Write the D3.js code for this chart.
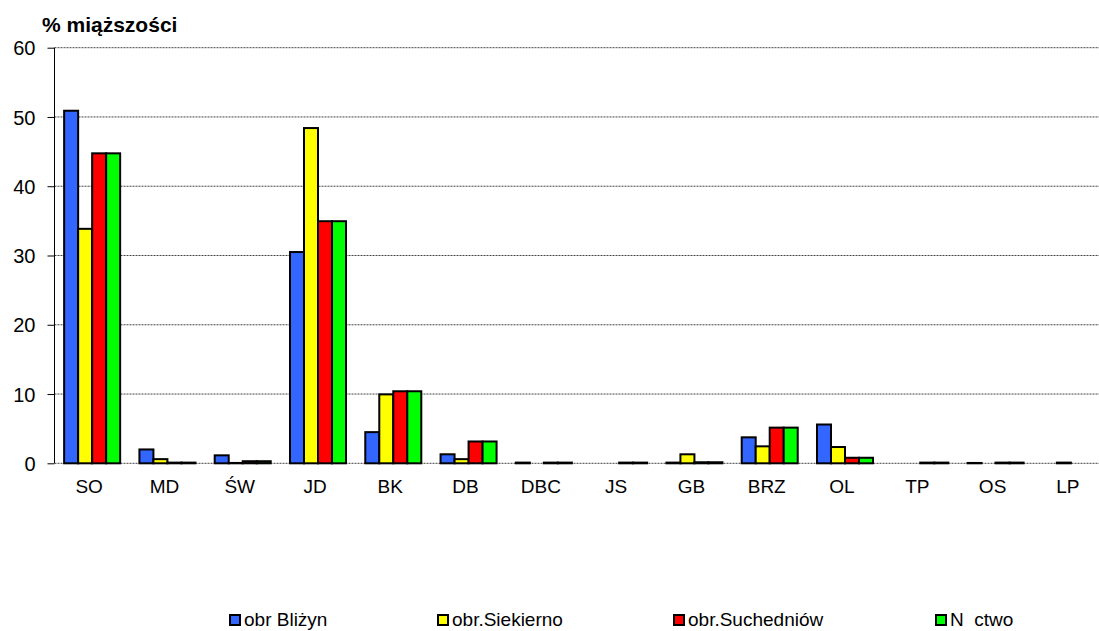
<!DOCTYPE html>
<html>
<head>
<meta charset="utf-8">
<script src="https://cdn.jsdelivr.net/npm/d3@7"></script>
<style>
  html, body { margin: 0; padding: 0; background: #fff; }
  svg { display: block; font-family: "Liberation Sans", Arial, sans-serif; }
</style>
</head>
<body>
<svg id="chart" width="1099" height="631"></svg>
<script>
const categories = ["SO", "MD", "ŚW", "JD", "BK", "DB", "DBC", "JS", "GB", "BRZ", "OL", "TP", "OS", "LP"];
const seriesNames = ["obr Bliżyn", "obr.Siekierno", "obr.Suchedniów", "N  ctwo"];
const seriesColors = ["#3366ff", "#ffff00", "#ff0000", "#00ff00"];
const blizyn     = [50.9, 2.0, 1.15, 30.5, 4.5, 1.3, 0.1, 0,   0.1, 3.75, 5.6, 0,   0.05, 0];
const siekierno  = [33.85, 0.6, 0.05, 48.4, 9.95, 0.6, 0,  0,   1.3, 2.45, 2.35, 0, 0,    0.1];
const suchedniow = [44.75, 0.1, 0.3, 34.95, 10.4, 3.15, 0.1, 0.1, 0.15, 5.15, 0.8, 0.1, 0.1, 0];
const nadlesn    = [44.75, 0.1, 0.3, 34.95, 10.4, 3.15, 0.1, 0.1, 0.15, 5.15, 0.8, 0.1, 0.1, 0];
const yTicks = [0, 10, 20, 30, 40, 50, 60];
const series = [blizyn, siekierno, suchedniow, nadlesn];

(function () {
const svg = d3.select("#chart");
const pLeft = 54.5, pRight = 1108.5, pTop = 47.7, pBottom = 463.3;
const FONT = "'Liberation Sans', Arial, sans-serif";

const x = d3.scaleBand().domain(categories).range([pLeft, pRight]).paddingInner(0.256).paddingOuter(0.128);
const xs = d3.scaleBand().domain(d3.range(series.length)).range([0, x.bandwidth()]);
const y = d3.scaleLinear().domain([0, 60]).range([pBottom, pTop]);

// gridlines
svg.append("g").selectAll("line").data(yTicks).join("line")
  .attr("x1", pLeft).attr("x2", 1099)
  .attr("y1", d => y(d)).attr("y2", d => y(d))
  .attr("stroke", "#444").attr("stroke-width", 1).attr("stroke-dasharray", "2,1");

// y axis
const yAxis = d3.axisLeft(y).tickValues(yTicks).tickSize(7).tickPadding(12).tickFormat(d3.format("d"));
const ya = svg.append("g").attr("transform", `translate(${pLeft},0)`).call(yAxis);
ya.select(".domain").attr("stroke", "#000").attr("d", `M0,${pBottom}V${pTop}`);
ya.selectAll(".tick line").attr("stroke", "#000");
ya.selectAll(".tick text").attr("font-size", 20).attr("fill", "#000")
  .attr("font-family", FONT).attr("dy", "0.36em");

// bars
const groups = svg.append("g").selectAll("g").data(categories).join("g")
  .attr("transform", d => `translate(${x(d)},0)`);
groups.selectAll("rect").data((c, i) => series.map((s, k) => ({k, v: s[i]})))
  .join("rect")
  .attr("x", d => xs(d.k))
  .attr("width", xs.bandwidth())
  .attr("y", d => y(d.v))
  .attr("height", d => Math.max(0, y(0) - y(d.v)))
  .attr("fill", d => seriesColors[d.k])
  .attr("stroke", "#000").attr("stroke-width", 2);

// x axis labels
const xAxis = d3.axisBottom(x).tickSize(0).tickPadding(0);
const xa = svg.append("g").attr("transform", `translate(-3,${pBottom})`).call(xAxis);
xa.select(".domain").remove();
xa.selectAll(".tick text").attr("font-size", 19).attr("fill", "#000")
  .attr("font-family", FONT).attr("y", 30).attr("dy", 0);

// title
svg.append("text").attr("x", 42).attr("y", 32).attr("font-size", 21).attr("font-weight", "bold")
  .attr("font-family", FONT).text("% miąższości");

// legend
const legendX = [230, 438, 674, 936];
const lg = svg.append("g").selectAll("g").data(seriesNames).join("g")
  .attr("transform", (d, i) => `translate(${legendX[i]},615)`);
lg.append("rect").attr("width", 10).attr("height", 10)
  .attr("fill", (d, i) => seriesColors[i]).attr("stroke", "#000").attr("stroke-width", 2);
lg.append("text").attr("x", 14).attr("y", 11).attr("font-size", 19).attr("font-family", FONT)
  .style("white-space", "pre").attr("xml:space", "preserve").text(d => d);
})();
</script>
</body>
</html>
